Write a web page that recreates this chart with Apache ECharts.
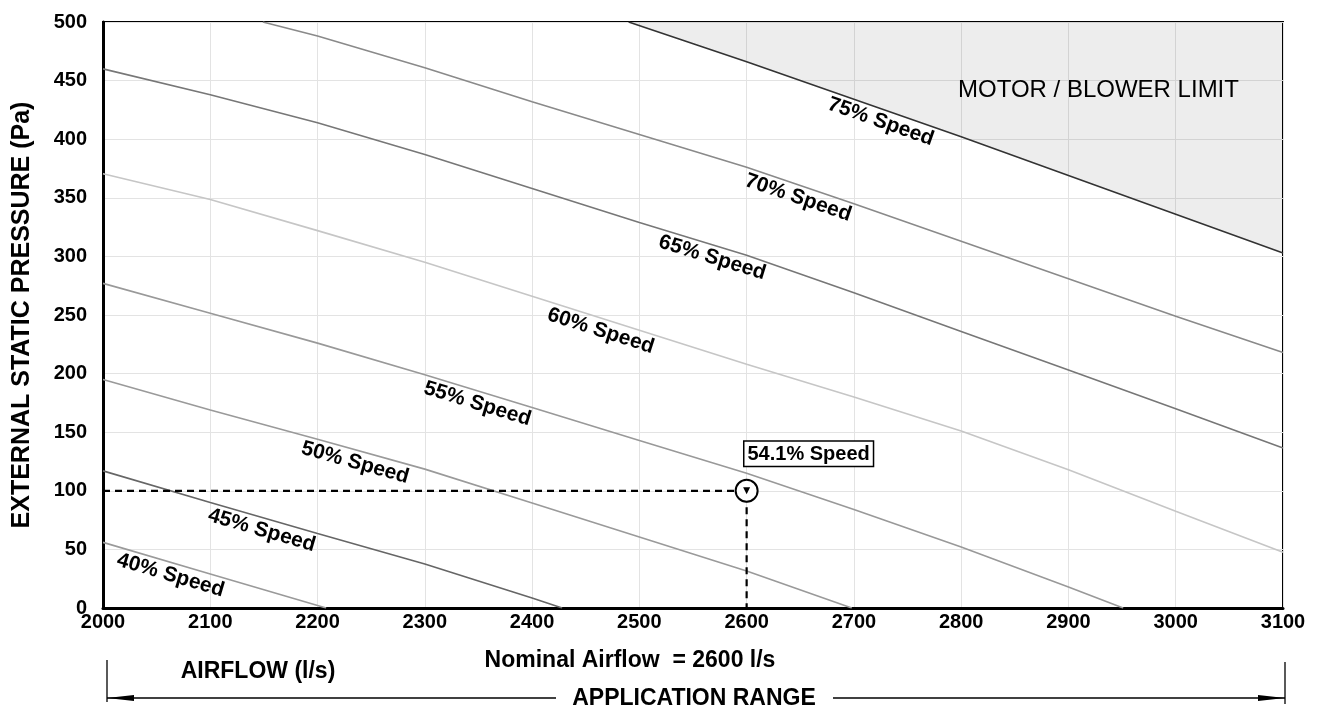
<!DOCTYPE html>
<html>
<head>
<meta charset="utf-8">
<script src="https://cdn.jsdelivr.net/npm/echarts@6/dist/echarts.min.js"></script>
<style>
  html, body { margin: 0; padding: 0; background: #fff; }
  #chart { width: 1317px; height: 709px; }
</style>
</head>
<body>
<div id="chart"></div>
<script>
// fan curves, [airflow l/s, pressure Pa]
const speed40 = [[2000, 56], [2100, 29], [2208, 0]];
const speed45 = [[2000, 117], [2100, 90], [2200, 63.5], [2300, 37.5], [2400, 8.5], [2428, 0]];
const speed50 = [[2000, 195], [2100, 169], [2200, 144], [2300, 118.5], [2400, 89.5], [2500, 60.5], [2600, 31.5], [2698, 0]];
const speed55 = [[2000, 277], [2100, 251.5], [2200, 226], [2300, 199], [2400, 171], [2500, 143], [2600, 115], [2700, 84], [2800, 52], [2900, 18], [2951, 0]];
const speed60 = [[2000, 370.5], [2100, 348.5], [2200, 322], [2300, 295], [2400, 266], [2500, 237], [2600, 208], [2700, 180], [2800, 151], [2900, 118], [3000, 82.5], [3100, 47.5]];
const speed65 = [[2000, 460], [2100, 438], [2200, 414], [2300, 387], [2400, 358], [2500, 329], [2600, 301], [2700, 269], [2800, 236], [2900, 203], [3000, 170], [3100, 136.5]];
const speed70 = [[2149, 500], [2200, 488], [2300, 461], [2400, 432], [2500, 404], [2600, 376], [2700, 345], [2800, 313], [2900, 281], [3000, 249], [3100, 218]];
const speed75 = [[2490, 500], [2600, 466], [2700, 434], [2800, 402], [2900, 369], [3000, 336], [3100, 303]];

const curveNames = ['40% Speed', '45% Speed', '50% Speed', '55% Speed', '60% Speed', '65% Speed', '70% Speed', '75% Speed'];
const labelFlows = [2063, 2148, 2235, 2349, 2464, 2568, 2648, 2725];
const curveColors = ['#9a9a9a', '#666666', '#9a9a9a', '#999999', '#c6c6c6', '#777777', '#8a8a8a', '#333333'];

const operatingPoint = [2600, 100];
const operatingLabel = '54.1% Speed';
const nominalText = 'Nominal Airflow  = 2600 l/s';
const limitText = 'MOTOR / BLOWER LIMIT';
const limitAt = [2928, 442];

const curves = [speed40, speed45, speed50, speed55, speed60, speed65, speed70, speed75];

// grid geometry (px)
const G = { left: 103, right: 34, top: 22, bottom: 101 };
const W = 1317, H = 709;
const pxX = (W - G.left - G.right) / 1100;
const pxY = (H - G.top - G.bottom) / 500;

function interp(pts, x) {
    for (let i = 0; i < pts.length - 1; i++) {
        if (x >= pts[i][0] && x <= pts[i + 1][0]) {
            const t = (x - pts[i][0]) / (pts[i + 1][0] - pts[i][0]);
            return { y: pts[i][1] + t * (pts[i + 1][1] - pts[i][1]),
                     slope: (pts[i + 1][1] - pts[i][1]) / (pts[i + 1][0] - pts[i][0]) };
        }
    }
    return { y: pts[pts.length - 1][1], slope: 0 };
}

const FONT = 'Arial, "Liberation Sans", sans-serif';

const series = curves.map((pts, i) => {
    const p = interp(pts, labelFlows[i]);
    const angle = Math.atan(p.slope * pxY / pxX) * 180 / Math.PI; // negative -> down to the right
    const markData = [{
        coord: [labelFlows[i], p.y - 13 / pxY],
        label: { show: true, formatter: curveNames[i], rotate: angle,
                 fontSize: 21, fontWeight: 'bold', color: '#000', fontFamily: FONT }
    }];
    const s = {
        name: curveNames[i],
        type: 'line',
        data: pts,
        symbol: 'none',
        silent: true,
        lineStyle: { color: curveColors[i], width: 1.6 },
        markPoint: { symbol: 'circle', symbolSize: 1, itemStyle: { color: 'rgba(0,0,0,0)' }, data: markData },
        z: 3
    };
    if (i === curves.length - 1) {
        // shaded region above the top curve
        s.areaStyle = { origin: 'end', color: 'rgba(0,0,0,0.1)' };
        markData.push({
            coord: limitAt,
            label: { show: true, formatter: limitText, fontSize: 24, color: '#000', fontFamily: FONT }
        });
    }
    return s;
});

// operating point dashed guides
series.push({
    type: 'line',
    data: [[2000, operatingPoint[1]], operatingPoint, [operatingPoint[0], 0]],
    symbol: 'none',
    silent: true,
    lineStyle: { color: '#000', width: 2.2, type: [7, 5] },
    z: 4
});
series.push({
    type: 'scatter',
    data: [operatingPoint],
    symbol: 'emptyCircle',
    symbolSize: 22,
    itemStyle: { color: '#000', borderWidth: 1.5, opacity: 1 },
    label: {
        show: true, position: 'top', offset: [62, -8],
        formatter: operatingLabel,
        fontSize: 20, fontWeight: 'bold', color: '#000', fontFamily: FONT,
        backgroundColor: '#fff', borderColor: '#000', borderWidth: 1.5, padding: [3, 3, 1, 3]
    },
    z: 5
});
series.push({
    type: 'scatter',
    data: [operatingPoint],
    symbol: 'triangle',
    symbolRotate: 180,
    symbolSize: 7,
    itemStyle: { color: '#000', opacity: 1 },
    z: 6
});

const option = {
    animation: false,
    backgroundColor: '#fff',
    grid: { left: G.left, right: G.right, top: G.top, bottom: G.bottom, show: true, borderColor: '#000', borderWidth: 2 },
    xAxis: {
        type: 'value', min: 2000, max: 3100, interval: 100,
        axisLine: { show: true, onZero: false, lineStyle: { color: '#000', width: 3 } },
        axisTick: { show: false },
        splitLine: { show: true, lineStyle: { color: '#e3e3e3', width: 1 } },
        axisLabel: { color: '#000', fontSize: 20, fontWeight: 'bold', fontFamily: FONT, margin: 4,
                     formatter: v => String(v) }
    },
    yAxis: {
        type: 'value', min: 0, max: 500, interval: 50,
        name: 'EXTERNAL STATIC PRESSURE (Pa)',
        nameLocation: 'middle', nameGap: 68,
        nameTextStyle: { color: '#000', fontSize: 25, fontWeight: 'bold', fontFamily: FONT },
        axisLine: { show: true, onZero: false, lineStyle: { color: '#000', width: 3 } },
        axisTick: { show: false },
        splitLine: { show: true, lineStyle: { color: '#e3e3e3', width: 1 } },
        axisLabel: { color: '#000', fontSize: 20, fontWeight: 'bold', fontFamily: FONT, margin: 16 }
    },
    series: series,
    graphic: [
        { type: 'text', x: 258, y: 672, style: { text: 'AIRFLOW (l/s)', font: 'bold 23px ' + FONT, fill: '#000', align: 'center', verticalAlign: 'middle' } },
        { type: 'text', x: 630, y: 661, style: { text: nominalText, font: 'bold 23px ' + FONT, fill: '#000', align: 'center', verticalAlign: 'middle' } },
        { type: 'text', x: 694, y: 699, style: { text: 'APPLICATION RANGE', font: 'bold 23px ' + FONT, fill: '#000', align: 'center', verticalAlign: 'middle' } },
        { type: 'line', shape: { x1: 107, y1: 698, x2: 556, y2: 698 }, style: { stroke: '#000', lineWidth: 1.3 } },
        { type: 'line', shape: { x1: 833, y1: 698, x2: 1285, y2: 698 }, style: { stroke: '#000', lineWidth: 1.3 } },
        { type: 'line', shape: { x1: 107, y1: 660, x2: 107, y2: 702 }, style: { stroke: '#000', lineWidth: 1.3 } },
        { type: 'line', shape: { x1: 1285, y1: 662, x2: 1285, y2: 704 }, style: { stroke: '#000', lineWidth: 1.3 } },
        { type: 'polygon', shape: { points: [[107, 698], [134, 695], [134, 701]] }, style: { fill: '#000' } },
        { type: 'polygon', shape: { points: [[1285, 698], [1258, 695], [1258, 701]] }, style: { fill: '#000' } }
    ]
};

const chart = echarts.init(document.getElementById('chart'));
chart.setOption(option);
window.addEventListener('resize', function () { chart.resize(); });
</script>
</body>
</html>
